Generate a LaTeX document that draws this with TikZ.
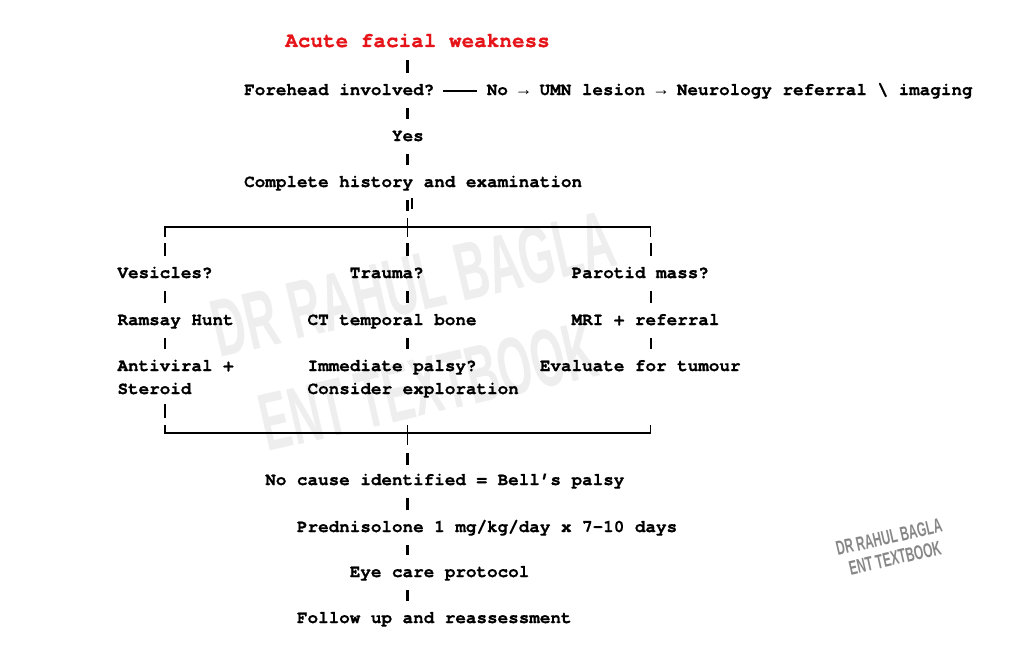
\documentclass[tikz,border=0pt]{standalone}
\usepackage{fontspec}
\setmainfont{Liberation Sans}
\newfontfamily\monob[Ligatures=NoCommon, BoldFeatures={FakeBold=0.8}]{TeX Gyre Cursor}
\newfontfamily\arrfont{Liberation Mono}
\newfontfamily\wmfont{Liberation Sans}
\usetikzlibrary{calc}
\definecolor{titlered}{RGB}{230,20,25}
\definecolor{wmlight}{RGB}{238,238,238}
\definecolor{wmdark}{RGB}{135,135,135}
\newcommand{\rarr}{{\arrfont\bfseries →}}
\tikzset{
  txt/.style={font=\monob\bfseries\fontsize{17.6}{20}\selectfont, inner sep=0pt, anchor=base west, text height=12pt, text depth=4pt},
  ttl/.style={txt, font=\monob\bfseries\fontsize{21}{24}\selectfont, text=titlered, text height=15pt},
  bar/.style={line width=2.2pt, shorten <=9pt, shorten >=10pt},
  boxline/.style={line width=1.4pt},
  wmbig/.style={text=wmlight, inner sep=0pt, font=\wmfont\bfseries, rotate=13},
  wmsmall/.style={text=wmdark, inner sep=0pt, font=\wmfont\bfseries, rotate=13}
}
\begin{document}
\begin{tikzpicture}[x=1pt,y=-1pt]
\useasboundingbox[fill=white] (0,0) rectangle (1024,669);

% watermarks
\node[wmbig] (wm1) at (413,284) {\resizebox{410pt}{57pt}{DR RAHUL BAGLA}};
\node[wmbig] (wm2) at (428,386) {\resizebox{342pt}{57pt}{ENT TEXTBOOK}};
\node[wmsmall] (wm3) at (889,537) {\resizebox{108pt}{14pt}{DR RAHUL BAGLA}};
\node[wmsmall] (wm4) at (895,558) {\resizebox{94pt}{14pt}{ENT TEXTBOOK}};

% columns
\coordinate (cL) at (164.8,0);
\coordinate (cM) at (407.5,0);
\coordinate (cR) at (650.6,0);

% text nodes
\node[ttl] (title) at (285,47) {Acute facial weakness};
\node[txt] (fore) at (244,95) {Forehead involved?};
\node[txt] (no) at (486.6,95) {No \rarr{} UMN lesion \rarr{} Neurology referral \textbackslash{} imaging};
\node[txt] (yes) at (391.8,141) {Yes};
\node[txt] (hist) at (244,187) {Complete history and examination};
\node[txt] (ves) at (117.3,278) {Vesicles?};
\node[txt] (tra) at (349.6,278) {Trauma?};
\node[txt] (par) at (571.4,278) {Parotid mass?};
\node[txt] (ram) at (117.3,325) {Ramsay Hunt};
\node[txt] (ct) at (307.4,325) {CT temporal bone};
\node[txt] (mri) at (571.4,325) {MRI + referral};
\node[txt] (anti) at (117.3,371) {Antiviral +};
\node[txt] (imm) at (307.4,371) {Immediate palsy?};
\node[txt] (eva) at (539.7,371) {Evaluate for tumour};
\node[txt] (ster) at (117.3,394) {Steroid};
\node[txt] (cons) at (307.4,394) {Consider exploration};
\node[txt] (bell) at (265.1,485) {No cause identified = Bell’s palsy};
\node[txt] (pred) at (296.8,532) {Prednisolone 1 mg/kg/day x 7-10 days};
\node[txt] (eye) at (349.6,577) {Eye care protocol};
\node[txt] (fol) at (296.8,623) {Follow up and reassessment};

% top chain
\draw[bar] (title.south -| cM) -- (fore.north -| cM);
\draw[boxline, shorten <=9pt, shorten >=10pt] (fore.east) -- (no.west);
\draw[bar] (fore.south -| cM) -- (yes.north -| cM);
\draw[bar] (yes.south -| cM) -- (hist.north -| cM);

% split
\coordinate (hubT) at (407.5,227);
\coordinate (tL) at (164.8,227);
\coordinate (tR) at (650.6,227);
\draw[bar, shorten >=16pt] (hist.south -| cM) -- (hubT);
\draw[boxline] ($(hist.south -| cM)+(4.5,7)$) -- ++(0,11);
\draw[boxline] ($(tL)+(0,10)$) -- (tL) -- (tR) -- ($(tR)+(0,10)$);
\draw[boxline] ($(hubT)+(0,-9)$) -- ($(hubT)+(0,10)$);
\draw[bar, shorten <=16pt] (tL) -- (ves.north -| tL);
\draw[bar, shorten <=16pt] (hubT) -- (tra.north -| hubT);
\draw[bar, shorten <=16pt] (tR) -- (par.north -| tR);

% branches
\draw[bar] (ves.south -| cL) -- (ram.north -| cL);
\draw[bar] (ram.south -| cL) -- (anti.north -| cL);
\draw[bar] (tra.south -| cM) -- (ct.north -| cM);
\draw[bar] (ct.south -| cM) -- (imm.north -| cM);
\draw[bar] (par.south -| cR) -- (mri.north -| cR);
\draw[bar] (mri.south -| cR) -- (eva.north -| cR);

% merge
\coordinate (hubB) at (407.5,433);
\coordinate (bL) at (164.8,433);
\coordinate (bR) at (650.6,433);
\draw[bar, shorten <=6pt, shorten >=15pt] (ster.south -| cL) -- (bL);
\draw[boxline] ($(bL)+(0,-8)$) -- (bL) -- (bR) -- ($(bR)+(0,-8)$);
\draw[boxline] ($(hubB)+(0,-8)$) -- ($(hubB)+(0,12)$);
\draw[bar, shorten <=20pt, shorten >=8pt] (hubB) -- (bell.north -| hubB);

% bottom chain
\draw[bar] (bell.south -| cM) -- (pred.north -| cM);
\draw[bar] (pred.south -| cM) -- (eye.north -| cM);
\draw[bar] (eye.south -| cM) -- (fol.north -| cM);
\end{tikzpicture}
\end{document}
